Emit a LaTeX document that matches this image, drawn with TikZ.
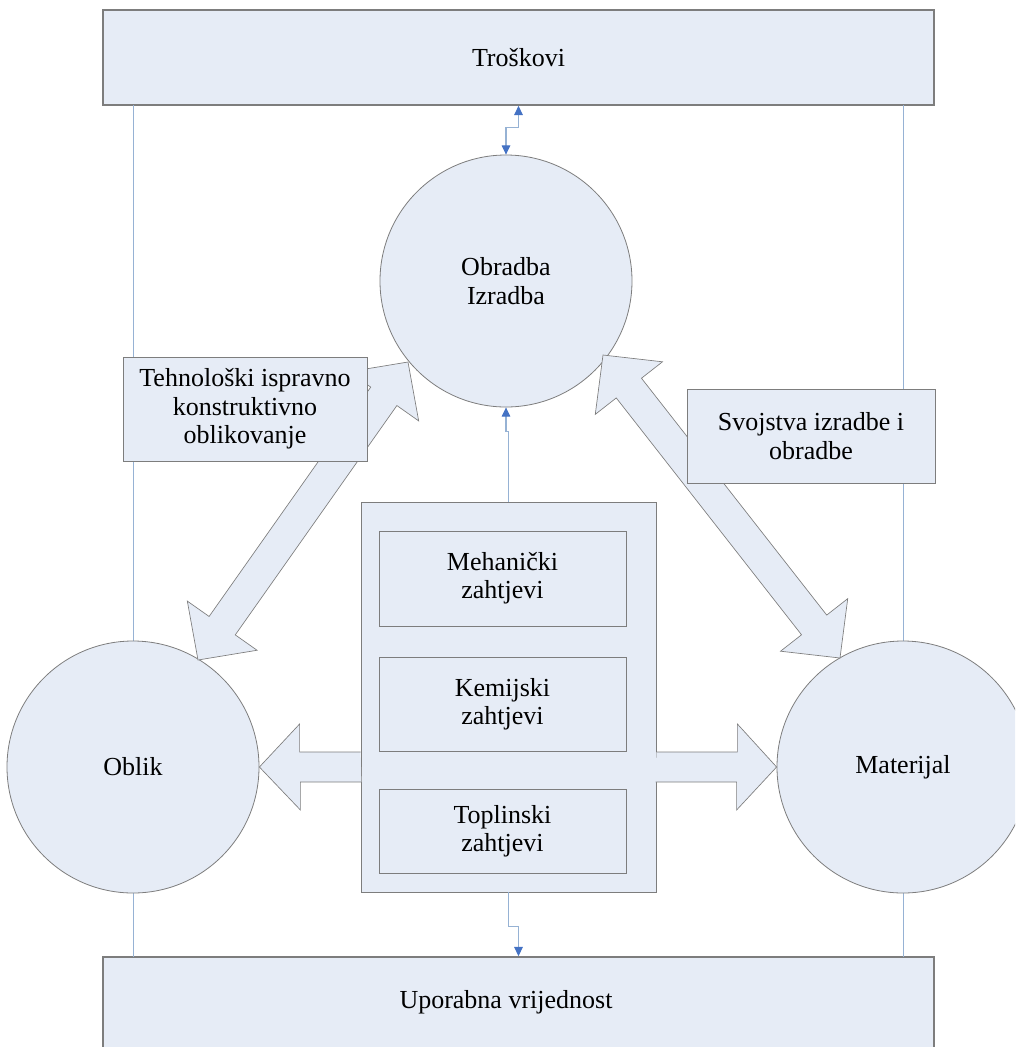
\documentclass[tikz,border=0pt]{standalone}
\usepackage{fontspec}
\setmainfont{Liberation Serif}
\usetikzlibrary{calc,arrows.meta}
\definecolor{boxfill}{RGB}{230,236,246}
\definecolor{edgegray}{RGB}{125,125,125}
\definecolor{connline}{RGB}{150,178,212}
\definecolor{arrowblue}{RGB}{68,114,196}
\newcommand\dblblockarrow[2]{%
  \coordinate (ha) at ($(#1)!31.5pt!(#2)$);
  \coordinate (hb) at ($(#2)!31.5pt!(#1)$);
  \draw[blockarrow] (#1) -- ($(ha)!32pt!90:(#2)$) -- ($(ha)!12pt!90:(#2)$)
    -- ($(hb)!12pt!-90:(#1)$) -- ($(hb)!32pt!-90:(#1)$) -- (#2)
    -- ($(hb)!32pt!90:(#1)$) -- ($(hb)!12pt!90:(#1)$)
    -- ($(ha)!12pt!-90:(#2)$) -- ($(ha)!32pt!-90:(#2)$) -- cycle;}
\begin{document}
\begin{tikzpicture}[x=0.75pt,y=-0.75pt,
  every node/.style={font=\fontsize{19.5}{21.3}\selectfont},
  bigbox/.style={draw=edgegray,line width=1.2pt,fill=boxfill,minimum width=623.25pt,minimum height=71.25pt,inner sep=0pt},
  roundnode/.style={circle,draw=edgegray,line width=0.6pt,fill=boxfill,minimum size=189pt,inner sep=0pt,align=center},
  labelbox/.style={draw=edgegray,line width=0.6pt,fill=boxfill,inner sep=0pt,align=center},
  innerbox/.style={draw=edgegray,line width=0.6pt,fill=boxfill,minimum width=185.25pt,inner sep=0pt,align=center},
  blockarrow/.style={draw=edgegray,line width=0.5pt,fill=boxfill,line join=miter},
  guide/.style={draw=connline,line width=0.6pt},
  conn/.style={draw=connline,line width=0.8pt,arrows={-Triangle[length=7pt,width=6.5pt,color=arrowblue]}}
]
\clip (0,0) rectangle (1015,1047);
\useasboundingbox (0,0) rectangle (1015,1047);

% top and bottom boxes
\node[bigbox] (tr) at (518.5,57.5) {Troškovi};
\node[bigbox] (ub) at (518.5,1004.5) {};
\node at (506,1002) {Uporabna vrijednost};

% guide lines
\coordinate (gl1) at (133,105);
\coordinate (gl2) at (133,957);
\coordinate (gr1) at (903,105);
\coordinate (gr2) at (903,957);
\draw[guide] (gl1) -- (gl2);
\draw[guide] (gr1) -- (gr2);

% circles
\node[roundnode] (obr) at (506,281) {Obradba\\Izradba};
\node[roundnode] (obl) at (133,767) {Oblik};
\node[roundnode] (mat) at (903,767) {Materijal};

% diagonal double block arrows
\coordinate (la) at (408,362);
\coordinate (lb) at (198,660);
\coordinate (ra) at (603,355);
\coordinate (rb) at (840,658);
\dblblockarrow{la}{lb}
\dblblockarrow{ra}{rb}

% label boxes
\node[labelbox,minimum width=183pt,minimum height=78pt] (teh) at (245,409)
  {Tehnološki ispravno\\konstruktivno\\oblikovanje};
\node[labelbox,minimum width=186pt,minimum height=70.5pt] (svo) at (811,436)
  {Svojstva izradbe i\\obradbe};

% centre box
\node[labelbox,minimum width=221.25pt,minimum height=292.5pt] (cb) at (508.5,697) {};
\node[innerbox,minimum height=71.25pt] (meh) at (502.5,578.5) {Mehanički\\zahtjevi};
\node[innerbox,minimum height=70.5pt] (kem) at (502.5,704) {Kemijski\\zahtjevi};
\node[innerbox,minimum height=63pt] (top) at (502.5,831) {Toplinski\\zahtjevi};

% horizontal block arrows
\draw[blockarrow] (cb.west |- obl.east) ++(0,-15) -- ++(-61,0) -- ++(0,-28) -- (obl.east)
  -- ++(41,43) -- ++(0,-28) -- ++(61,0);
\draw[blockarrow] (cb.east |- mat.west) ++(0,-15) -- ++(81,0) -- ++(0,-28) -- (mat.west)
  -- ++(-40,43) -- ++(0,-28) -- ++(-81,0);

% connectors
\draw[conn,arrows={Triangle[length=7pt,width=6.5pt,color=arrowblue]-Triangle[length=7pt,width=6.5pt,color=arrowblue]}]
  (obr.north) -- ++(0,-27) -| (tr.south);
\draw[conn] (cb.north) -- ++(0,-70) -| (obr.south);
\draw[conn] (cb.south) -- ++(0,34) -| (ub.north);
\end{tikzpicture}
\end{document}
